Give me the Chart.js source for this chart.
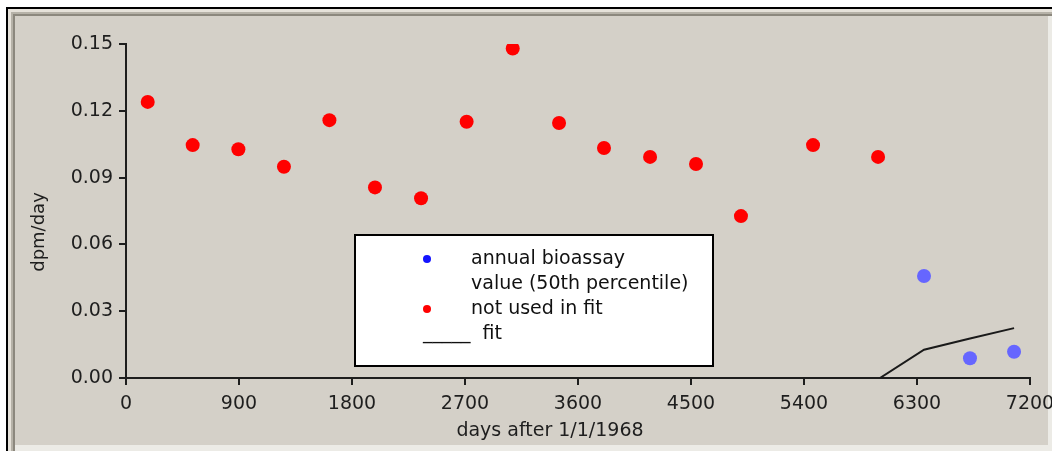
<!DOCTYPE html>
<html>
<head>
<meta charset="utf-8">
<script src="https://cdn.jsdelivr.net/npm/chart.js@4.4.0/dist/chart.umd.min.js"></script>
<style>
  html, body { margin: 0; padding: 0; background: #ffffff; }
  #wrap { width: 1052px; height: 451px; }
</style>
</head>
<body>
<div id="wrap"><canvas id="bioChart" width="1052" height="451"></canvas></div>
<script>
const xTicks = [0, 900, 1800, 2700, 3600, 4500, 5400, 6300, 7200];
const yTicks = [0, 0.03, 0.06, 0.09, 0.12, 0.15];

// red points (not used in fit)
const notUsedDays = [173, 531, 895, 1258, 1620, 1983, 2350, 2713, 3080, 3449, 3807, 4174, 4540, 4898, 5472, 5990];
const notUsedDpm = [0.124, 0.1046, 0.1027, 0.0949, 0.1158, 0.0856, 0.0807, 0.1151, 0.148, 0.1145, 0.1033, 0.0993, 0.0961, 0.0727, 0.1046, 0.0993];

// blue points (annual bioassay)
const bioassayDays = [6356, 6722, 7073];
const bioassayDpm = [0.0458, 0.0089, 0.0118];

// fit curve
const fitDays = [6005, 6356, 6714, 7073];
const fitDpm = [0, 0.0127, 0.0176, 0.0224];

const xTitle = "days after 1/1/1968";
const yTitle = "dpm/day";
const legendItems = [
    { lines: ["annual bioassay", "value (50th percentile)"], dot: "#1414ff" },
    { lines: ["not used in fit"], dot: "#ff0000" },
    { lines: ["_____  fit"], dot: null },
];

const fontFamily = "'DejaVu Sans', Arial, sans-serif";
const inkColor = "#1e1e1e";

const toPoints = (xs, ys) => xs.map((x, i) => ({ x: x, y: ys[i] }));

// grey beveled panel behind everything
const framePlugin = {
    id: "frame",
    beforeDraw: (chart) => {
        const ctx = chart.ctx;
        const w = chart.width;
        const h = chart.height;
        ctx.save();
        ctx.fillStyle = "#ffffff";
        ctx.fillRect(0, 0, w, h);
        ctx.fillStyle = "#000000";
        ctx.fillRect(6, 7, w - 6, 2);
        ctx.fillRect(6, 7, 2, h - 7);
        ctx.fillStyle = "#e6e2da";
        ctx.fillRect(8, 9, w - 8, 3);
        ctx.fillRect(8, 9, 3, h - 9);
        ctx.fillStyle = "#b6b2a8";
        ctx.fillRect(11, 12, w - 11, 2);
        ctx.fillRect(11, 12, 2, h - 12);
        ctx.fillStyle = "#8c887e";
        ctx.fillRect(13, 14, w - 13, 2);
        ctx.fillRect(13, 14, 2, h - 14);
        ctx.fillStyle = "#ecebe6";
        ctx.fillRect(15, 16, w - 15, h - 16);
        ctx.fillStyle = "#d4d0c8";
        ctx.fillRect(15, 16, 1033, 429);
        ctx.restore();
    },
};

// axis titles and the boxed legend
const annotatePlugin = {
    id: "annotate",
    afterDraw: (chart) => {
        const ctx = chart.ctx;
        ctx.save();
        ctx.fillStyle = inkColor;
        ctx.font = "19px " + fontFamily;
        ctx.textAlign = "center";
        ctx.textBaseline = "alphabetic";
        ctx.fillText(xTitle, 550, 436);

        ctx.save();
        ctx.font = "18px " + fontFamily;
        ctx.translate(44, 232);
        ctx.rotate(-Math.PI / 2);
        ctx.fillText(yTitle, 0, 0);
        ctx.restore();

        // legend box
        ctx.fillStyle = "#ffffff";
        ctx.fillRect(355, 235, 358, 131);
        ctx.strokeStyle = "#000000";
        ctx.lineWidth = 2;
        ctx.strokeRect(355, 235, 358, 131);

        ctx.font = "19px " + fontFamily;
        ctx.textAlign = "left";
        let baseline = 264;
        legendItems.forEach((item) => {
            if (item.dot) {
                ctx.fillStyle = item.dot;
                ctx.beginPath();
                ctx.arc(427, baseline - 5, 4, 0, Math.PI * 2);
                ctx.fill();
            }
            ctx.fillStyle = "#111111";
            item.lines.forEach((line) => {
                const x = item.dot ? 471 : 423;
                ctx.fillText(line, x, baseline);
                baseline += 25;
            });
        });
        ctx.restore();
    },
};

const axisStyle = {
    grid: {
        drawOnChartArea: false,
        drawTicks: true,
        tickLength: 7,
        color: inkColor,
        lineWidth: 2,
    },
    border: { display: true, color: inkColor, width: 2 },
};

new Chart(document.getElementById("bioChart"), {
    type: "scatter",
    data: {
        datasets: [
            {
                label: "not used in fit",
                data: toPoints(notUsedDays, notUsedDpm),
                backgroundColor: "#ff0000",
                borderColor: "#ff0000",
                borderWidth: 0,
                pointRadius: 7,
            },
            {
                label: "annual bioassay value (50th percentile)",
                data: toPoints(bioassayDays, bioassayDpm),
                backgroundColor: "#6666ff",
                borderColor: "#6666ff",
                borderWidth: 0,
                pointRadius: 7,
            },
            {
                label: "fit",
                type: "line",
                data: toPoints(fitDays, fitDpm),
                borderColor: "#1a1a1a",
                borderWidth: 2,
                pointRadius: 0,
                fill: false,
                tension: 0,
            },
        ],
    },
    options: {
        responsive: false,
        animation: false,
        devicePixelRatio: 1,
        layout: { padding: { left: 0, right: 22, top: 44, bottom: 0 } },
        plugins: {
            legend: { display: false },
            tooltip: { enabled: false },
        },
        scales: {
            x: {
                type: "linear",
                min: 0,
                max: 7200,
                ...axisStyle,
                afterBuildTicks: (scale) => {
                    scale.ticks = xTicks.map((v) => ({ value: v }));
                },
                afterFit: (scale) => {
                    scale.height = 73;
                    scale.paddingLeft = 0;
                    scale.paddingRight = 0;
                },
                ticks: {
                    color: inkColor,
                    font: { family: fontFamily, size: 19 },
                    padding: 8,
                    maxRotation: 0,
                    autoSkip: false,
                    callback: (v) => String(v),
                },
            },
            y: {
                type: "linear",
                min: 0,
                max: 0.15,
                ...axisStyle,
                afterBuildTicks: (scale) => {
                    scale.ticks = yTicks.map((v) => ({ value: v }));
                },
                afterFit: (scale) => {
                    scale.width = 126;
                    scale.paddingTop = 0;
                    scale.paddingBottom = 0;
                },
                ticks: {
                    color: inkColor,
                    font: { family: fontFamily, size: 19 },
                    padding: 6,
                    autoSkip: false,
                    callback: (v) => v.toFixed(2),
                },
            },
        },
    },
    plugins: [framePlugin, annotatePlugin],
});
</script>
</body>
</html>
